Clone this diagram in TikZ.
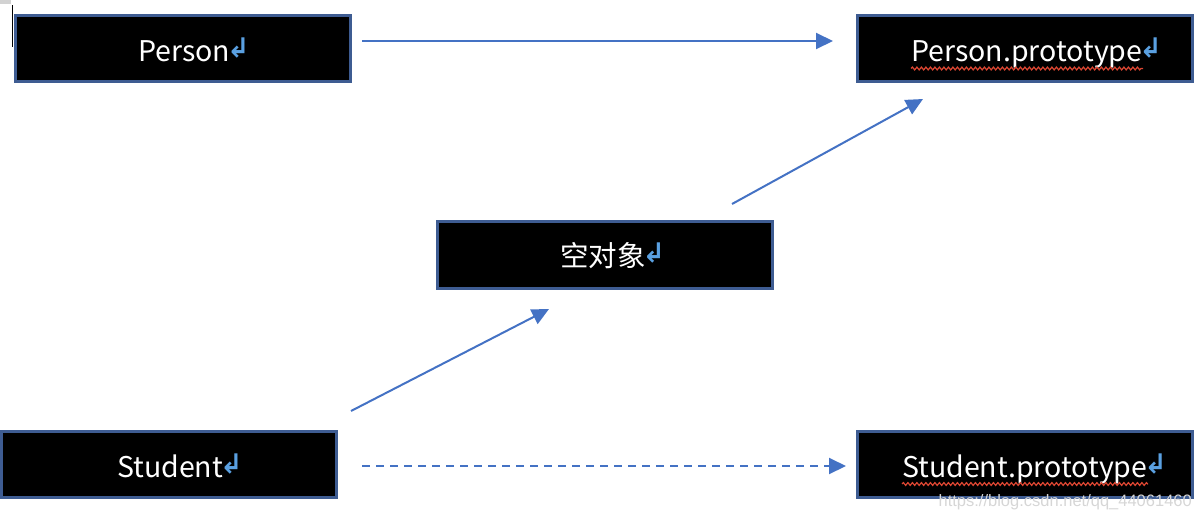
\documentclass[tikz,border=0pt]{standalone}
\usepackage{fontspec}
\usetikzlibrary{arrows.meta,decorations.pathmorphing}
\newfontfamily\cjk{Noto Sans CJK SC}
\newfontfamily\symf{DejaVu Sans}
\newfontfamily\wmf{Liberation Sans}
\definecolor{boxborder}{RGB}{62,92,146}
\definecolor{arrowblue}{RGB}{68,114,196}
\definecolor{retblue}{RGB}{90,160,225}
\definecolor{spellred}{RGB}{220,70,50}
\newcommand{\retmark}{\kern-3pt{\symf\bfseries\fontsize{27}{27}\selectfont\color{retblue}\raisebox{4pt}{↲}}}
\begin{document}
\begin{tikzpicture}[x=1pt,y=-1pt,
  objbox/.style={draw=boxborder, line width=3pt, fill=black, minimum width=335pt, minimum height=66pt, inner sep=0pt, anchor=north west},
  lbl/.style={text=white, inner sep=0pt, anchor=base west, font=\cjk\fontsize{28.5}{28.5}\selectfont},
  link/.style={draw=arrowblue, line width=2pt, -{Triangle[length=17pt,width=16pt]}},
  dashlink/.style={link, dash pattern=on 8pt off 6pt},
  spell/.style={draw=spellred, line width=1.2pt, decorate, decoration={snake, amplitude=1.4pt, segment length=4.5pt}}]
\useasboundingbox (0,0) rectangle (1202,520);
% editor artefacts
\fill[gray!35] (0,0) rectangle (11,4);
\draw[black, line width=1.5pt] (12.5,5) -- (12.5,47);
% boxes
\node[objbox] (person) at (14,14) {};
\node[objbox] (pproto) at (856,14) {};
\node[objbox, minimum height=67pt] (empty) at (436,220) {};
\node[objbox] (student) at (0,430) {};
\node[objbox] (sproto) at (856,430) {};
% labels
\node[lbl] (personT) at (138,61) {Person\retmark};
\node[lbl] (pprotoT) at (911,61) {Person.prototype\retmark};
\node[lbl] (emptyT) at (560,266) {空对象\retmark};
\node[lbl] (studentT) at (117,477) {Student\retmark};
\node[lbl] (sprotoT) at (902,477) {Student.prototype\retmark};
% spell-check underlines
\coordinate (u1s) at (911,68.5); \coordinate (u1e) at (1143,68.5);
\coordinate (u2s) at (902,484); \coordinate (u2e) at (1148,484);
\draw[spell] (u1s) -- (u1e);
\draw[spell] (u2s) -- (u2e);
% connectors
\coordinate (a1s) at (362,41);  \coordinate (a1e) at (833,41);
\coordinate (a2s) at (732,204); \coordinate (a2e) at (923,99);
\coordinate (a3s) at (351,411); \coordinate (a3e) at (549,309);
\coordinate (a4s) at (362,466); \coordinate (a4e) at (846,466);
\draw[link] (a1s) -- (a1e);
\draw[link] (a2s) -- (a2e);
\draw[link] (a3s) -- (a3e);
\draw[dashlink] (a4s) -- (a4e);
% watermark
\node[anchor=base east, inner sep=0pt, font=\wmf\fontsize{16.5}{16.5}\selectfont, text=gray!32] (wm) at (1192,506) {https://blog.csdn.net/qq\_44061460};
\end{tikzpicture}
\end{document}
